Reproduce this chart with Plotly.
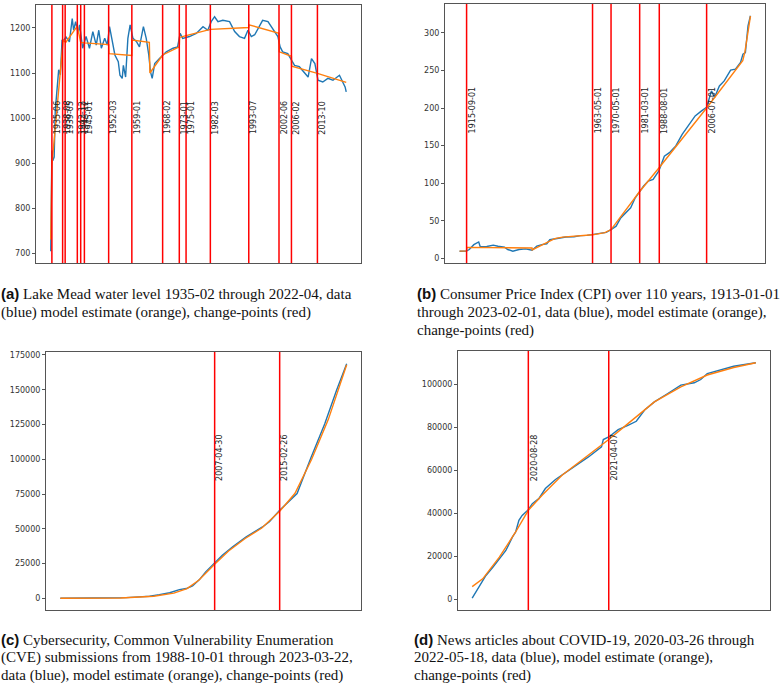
import plotly.graph_objects as go
import pandas as pd

# ---------------- (a) Lake Mead water level ----------------
lake_dates = ["1935-02", "1935-04", "1935-06", "1935-09", "1936-02", "1936-06", "1936-12", "1937-06",
              "1937-12", "1938-06", "1938-09", "1939-08", "1940-08", "1941-06", "1941-11", "1942-06",
              "1943-03", "1943-08", "1944-07", "1945-07", "1946-07", "1947-07", "1948-07", "1949-04",
              "1950-01", "1951-01", "1951-10", "1952-06", "1953-04", "1954-01", "1955-01", "1955-07",
              "1956-03", "1956-07", "1957-03", "1957-11", "1958-07", "1959-05", "1960-05", "1961-04",
              "1962-06", "1963-04", "1964-01", "1964-07", "1965-01", "1965-10", "1967-03", "1969-03",
              "1971-03", "1972-07", "1973-04", "1974-01", "1976-01", "1978-01", "1980-01", "1981-06",
              "1982-06", "1983-06", "1984-06", "1985-11", "1987-11", "1989-05", "1990-10", "1992-04",
              "1993-04", "1994-04", "1995-04", "1996-03", "1997-08", "1999-03", "2000-08", "2002-02",
              "2002-10", "2003-07", "2005-01", "2006-01", "2007-01", "2008-06", "2010-01", "2011-01",
              "2012-01", "2013-01", "2013-12", "2015-05", "2016-11", "2018-05", "2020-04", "2021-04",
              "2021-12", "2022-04"]
lake_level = [704, 779, 928, 905, 913, 1017, 1062, 1107,
              1096, 1174, 1170, 1180, 1169, 1221, 1195, 1214,
              1188, 1207, 1155, 1181, 1155, 1192, 1162, 1195,
              1155, 1177, 1162, 1203, 1170, 1140, 1125, 1095,
              1088, 1117, 1091, 1177, 1207, 1177, 1170, 1158,
              1203, 1177, 1140, 1103, 1088, 1121, 1132, 1147,
              1155, 1158, 1188, 1177, 1181, 1188, 1203, 1195,
              1214, 1225, 1214, 1217, 1214, 1192, 1181, 1177,
              1195, 1181, 1185, 1199, 1217, 1214, 1199, 1181,
              1158, 1147, 1143, 1129, 1117, 1114, 1099, 1091,
              1132, 1121, 1084, 1080, 1088, 1084, 1095, 1080,
              1069, 1058]
lake_model_dates = ["1935-02", "1935-06", "1938-10", "1939-07", "1942-12", "1943-12", "1945-01", "1952-03",
                    "1952-04", "1959-01", "1959-02", "1964-03", "1964-05", "1968-02", "1973-01", "1973-02",
                    "1975-01", "1982-03", "1993-07", "1993-08", "2002-06", "2002-07", "2006-02", "2006-03",
                    "2013-10", "2022-04"]
lake_model = [730, 895, 1173, 1168, 1204, 1168, 1167, 1163,
              1143, 1139, 1173, 1168, 1100, 1140, 1158, 1179,
              1183, 1197, 1201, 1207, 1188, 1147, 1137, 1115,
              1099, 1079]
lake_cp = ["1935-06", "1938-08", "1939-05", "1942-12", "1943-12", "1945-01", "1952-03", "1959-01",
           "1968-02", "1973-01", "1975-01", "1982-03", "1993-07", "2002-06", "2006-02", "2013-10"]
lake_ticks = [700, 800, 900, 1000, 1100, 1200]

# ---------------- (b) CPI ----------------
cpi_dates = ["1913-01", "1915-08", "1916-09", "1918-06", "1920-04", "1920-11", "1923-05", "1925-10",
             "1927-08", "1930-01", "1931-04", "1933-03", "1935-07", "1938-01", "1940-06", "1942-04",
             "1944-03", "1946-01", "1947-03", "1949-01", "1950-11", "1953-04", "1956-05", "1958-10",
             "1961-04", "1963-06", "1965-07", "1967-05", "1968-07", "1970-05", "1972-04", "1974-01",
             "1976-01", "1977-10", "1979-07", "1981-03", "1982-09", "1984-06", "1986-04", "1988-06",
             "1990-07", "1992-06", "1994-11", "1997-04", "1999-10", "2002-03", "2004-08", "2006-07",
             "2008-05", "2009-07", "2011-05", "2013-03", "2015-08", "2017-06", "2019-05", "2020-04",
             "2021-03", "2022-03", "2023-02"]
cpi_value = [9.7, 9.8, 12.0, 18.4, 22.0, 15.6, 16.0, 17.8,
             16.4, 15.0, 12.0, 9.8, 12.0, 12.8, 11.0, 16.4,
             18.4, 19.6, 25.0, 26.0, 28.0, 28.6, 29.0, 30.4,
             30.8, 31.7, 33.0, 33.9, 34.8, 38.4, 43.0, 54.0,
             60.8, 67.4, 80.7, 89.7, 96.3, 103.0, 105.2, 116.3,
             136.0, 140.7, 149.6, 165.0, 177.5, 189.5, 196.2, 201.0,
             222.8, 213.9, 229.4, 236.0, 250.3, 251.6, 260.5, 271.6,
             273.8, 309.3, 322.6]
cpi_model_dates = ["1913-01", "1915-09", "1915-10", "1940-06", "1940-07", "1946-06", "1949-01", "1952-01",
                   "1963-05", "1968-01", "1970-05", "1981-03", "1988-08", "2006-07", "2020-03", "2021-01",
                   "2023-02"]
cpi_model = [9.8, 10.2, 14.8, 14.0, 11.5, 22.0, 26.5, 28.5,
             31.5, 34.5, 38.5, 89.0, 121.0, 200.0, 263.0, 275.0,
             322.0]
cpi_cp = ["1915-09-01", "1963-05-01", "1970-05-01", "1981-03-01", "1988-08-01", "2006-07-01"]
cpi_ticks = [0, 50, 100, 150, 200, 250, 300]

# ---------------- (c) CVE submissions ----------------
cve_dates = ["1988-10-01", "1993-07-01", "1996-09-01", "1998-04-01", "1999-07-01", "2000-09-01",
             "2001-12-01", "2003-02-01", "2003-12-01", "2004-09-01", "2005-07-01", "2006-04-01",
             "2007-04-30", "2008-04-01", "2009-07-01", "2011-02-01", "2013-02-01", "2013-12-01",
             "2015-02-26", "2016-05-01", "2017-04-01", "2018-12-01", "2020-08-01", "2022-01-01",
             "2023-03-22"]
cve_count = [0, 100, 500, 1000, 1500, 2600,
             4000, 6200, 7000, 8900, 13400, 19000,
             25400, 31000, 37000, 44100, 51300, 55000,
             63300, 70000, 75300, 101000, 125600, 149600,
             168700]
cve_model_dates = ["1988-10-01", "1996-01-01", "2000-01-01", "2002-06-01", "2004-01-01", "2005-06-01",
                   "2007-04-30", "2009-01-01", "2011-01-01", "2013-01-01", "2015-02-26", "2017-01-01",
                   "2019-01-01", "2021-01-01", "2023-03-22"]
cve_model = [0, 200, 1500, 3700, 7000, 13000,
             24500, 34000, 43000, 50500, 62500, 75500,
             100000, 128500, 168000]
cve_cp = ["2007-04-30", "2015-02-26"]
cve_ticks = [0, 25000, 50000, 75000, 100000, 125000, 150000, 175000]

# ---------------- (d) COVID-19 news articles ----------------
news_dates = ["2020-03-26", "2020-04-15", "2020-05-03", "2020-05-22", "2020-06-09", "2020-06-27",
              "2020-07-15", "2020-07-24", "2020-08-02", "2020-08-11", "2020-08-28", "2020-09-08",
              "2020-09-26", "2020-10-14", "2020-11-11", "2020-12-26", "2021-02-10", "2021-03-18",
              "2021-03-23", "2021-04-07", "2021-05-03", "2021-05-30", "2021-06-22", "2021-07-15",
              "2021-08-11", "2021-09-17", "2021-10-23", "2021-11-29", "2021-12-17", "2022-01-04",
              "2022-02-10", "2022-03-18", "2022-05-18"]
news_count = [600, 6500, 11200, 15000, 19000, 22800,
              29000, 31400, 36800, 39100, 41800, 44600,
              46900, 51600, 55800, 60900, 66300, 71000,
              74400, 75600, 79000, 81000, 82900, 88100,
              91900, 95800, 99700, 100800, 102300, 105100,
              106700, 108500, 110100]
news_model_dates = ["2020-03-26", "2020-04-24", "2020-06-09", "2020-07-24", "2020-08-28", "2020-10-05",
                    "2020-11-29", "2021-02-10", "2021-04-07", "2021-05-30", "2021-08-11", "2021-10-23",
                    "2022-01-04", "2022-03-18", "2022-05-18"]
news_model = [6000, 9600, 19700, 31400, 41500, 48500,
              57800, 67100, 74400, 81800, 91900, 98900,
              104400, 107900, 110100]
news_cp = ["2020-08-28", "2021-04-07"]
news_ticks = [0, 20000, 40000, 60000, 80000, 100000]

LBL = "<span style='font-family:Liberation Sans'><b>(%s)</b></span> "
captions = [
    [LBL % "a" + "Lake Mead water level 1935-02 through 2022-04, data",
     "(blue) model estimate (orange), change-points (red)"],
    [LBL % "b" + "Consumer Price Index (CPI) over 110 years, 1913-01-01",
     "through 2023-02-01, data (blue), model estimate (orange),",
     "change-points (red)"],
    [LBL % "c" + "Cybersecurity, Common Vulnerability Enumeration",
     "(CVE) submissions from 1988-10-01 through 2023-03-22,",
     "data (blue), model estimate (orange), change-points (red)"],
    [LBL % "d" + "News articles about COVID-19, 2020-03-26 through",
     "2022-05-18, data (blue), model estimate (orange),",
     "change-points (red)"],
]

W, H = 780, 683
# axes boxes in pixels: (left, right, top, bottom)
boxes = [(36, 361, 5, 263), (445, 765, 4, 263), (46, 361, 352, 610), (458, 770, 351, 610)]
# caption x start and first-line centre y (pixels), line step
caption_pos = [(0, 294), (416, 294), (0, 639), (413, 639)]
LINE_STEP = 18.3

panels = [
    (lake_dates, lake_level, lake_model_dates, lake_model, lake_cp, lake_ticks),
    (cpi_dates, cpi_value, cpi_model_dates, cpi_model, cpi_cp, cpi_ticks),
    (cve_dates, cve_count, cve_model_dates, cve_model, cve_cp, cve_ticks),
    (news_dates, news_count, news_model_dates, news_model, news_cp, news_ticks),
]

BLUE = "#1f77b4"
ORANGE = "#ff7f0e"
RED = "#ff0000"
AXC = "#555555"

fig = go.Figure()
layout = dict(width=W, height=H, margin=dict(l=0, r=0, t=0, b=0),
              paper_bgcolor="white", plot_bgcolor="white", showlegend=False,
              font=dict(family="DejaVu Sans", size=8, color="#333333"))
shapes = []
annotations = []

for i, (dx, dy, mx, my, cps, ticks) in enumerate(panels):
    n = i + 1
    xa = "x" if n == 1 else f"x{n}"
    ya = "y" if n == 1 else f"y{n}"
    fig.add_trace(go.Scatter(x=dx, y=dy, mode="lines", line=dict(color=BLUE, width=1.4),
                             xaxis=xa, yaxis=ya, hoverinfo="skip"))
    fig.add_trace(go.Scatter(x=mx, y=my, mode="lines", line=dict(color=ORANGE, width=1.4),
                             xaxis=xa, yaxis=ya, hoverinfo="skip"))
    # matplotlib-like 5% margins
    allx = pd.to_datetime(list(dx) + list(mx))
    x0, x1 = allx.min(), allx.max()
    pad = (x1 - x0) * 0.05
    ally = list(dy) + list(my)
    y0, y1 = min(ally), max(ally)
    ypad = (y1 - y0) * 0.05
    l, r, t, b = boxes[i]
    layout["xaxis" if n == 1 else f"xaxis{n}"] = dict(
        domain=[l / W, r / W], anchor=ya, type="date",
        range=[(x0 - pad).strftime("%Y-%m-%d %H:%M"), (x1 + pad).strftime("%Y-%m-%d %H:%M")],
        showticklabels=False, ticks="", showgrid=False, zeroline=False,
        showline=True, linecolor=AXC, linewidth=1, mirror=True)
    layout["yaxis" if n == 1 else f"yaxis{n}"] = dict(
        domain=[1 - b / H, 1 - t / H], anchor=xa, range=[y0 - ypad, y1 + ypad],
        tickmode="array", tickvals=ticks, ticktext=[str(v) for v in ticks],
        ticks="outside", ticklen=3, tickcolor=AXC, tickwidth=1,
        showgrid=False, zeroline=False, showline=True, linecolor=AXC, linewidth=1, mirror=True,
        tickfont=dict(family="DejaVu Sans", size=8, color="#333333"))
    for cp in cps:
        shapes.append(dict(type="line", xref=xa, yref=f"{ya} domain", x0=cp, x1=cp, y0=0, y1=1,
                           line=dict(color=RED, width=1.5), layer="above"))
        annotations.append(dict(x=cp, xref=xa, y=0.495, yref=f"{ya} domain", text=cp,
                                textangle=-90, showarrow=False, xanchor="left", yanchor="bottom",
                                borderpad=0, font=dict(family="DejaVu Sans", size=8, color="#222222")))
    cx, cy = caption_pos[i]
    for k, line in enumerate(captions[i]):
        annotations.append(dict(x=cx / W, y=1 - (cy + k * LINE_STEP) / H, xref="paper", yref="paper",
                                text=line, showarrow=False, xanchor="left", yanchor="middle",
                                align="left", borderpad=0,
                                font=dict(family="Liberation Serif", size=15, color="#111111")))

layout["shapes"] = shapes
layout["annotations"] = annotations
fig.update_layout(**layout)
fig.write_html("out.html")
